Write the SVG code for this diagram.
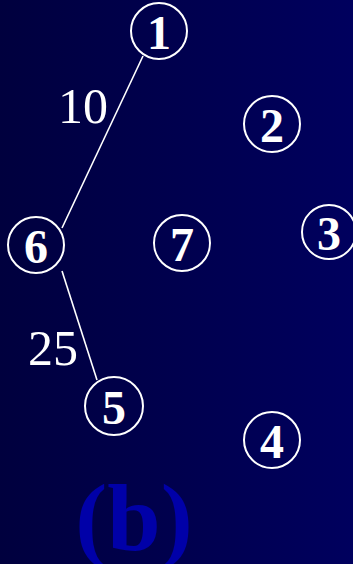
<svg xmlns="http://www.w3.org/2000/svg" width="353" height="564" viewBox="0 0 353 564">
<defs>
<linearGradient id="bg" x1="0" y1="0" x2="1" y2="0">
<stop offset="0" stop-color="#00003e"/>
<stop offset="1" stop-color="#00005e"/>
</linearGradient>
<style>
.n circle{fill:none;stroke:#fff;stroke-width:2}
.n text{fill:#fff;font-family:"Liberation Serif",serif;font-weight:bold;font-size:48px;text-anchor:middle}
.e line{stroke:#fff;stroke-width:1.6}
.w{fill:#fff;font-family:"Liberation Serif",serif;font-size:50px}
</style>
</defs>
<rect width="353" height="564" fill="url(#bg)"/>
<g class="e" id="edges">
<line x1="143" y1="56" x2="62" y2="228"/>
<line x1="62" y1="271" x2="97" y2="380"/>
</g>
<g class="n" id="node1"><circle cx="159" cy="31" r="28"/><text x="159" y="49">1</text></g>
<g class="n" id="node2"><circle cx="272" cy="124" r="28"/><text x="272" y="142">2</text></g>
<g class="n" id="node3"><circle cx="329" cy="232" r="27"/><text x="329" y="250">3</text></g>
<g class="n" id="node6"><circle cx="36" cy="245" r="28"/><text x="36" y="263">6</text></g>
<g class="n" id="node7"><circle cx="182" cy="243" r="28"/><text x="182" y="261">7</text></g>
<g class="n" id="node5"><circle cx="114" cy="406" r="29"/><text x="114" y="424">5</text></g>
<g class="n" id="node4"><circle cx="272" cy="440" r="28"/><text x="272" y="458">4</text></g>
<text class="w" x="58" y="123">10</text>
<text class="w" x="28" y="365">25</text>
<text x="134" y="550" fill="#0000a8" font-family="'Liberation Serif',serif" font-weight="bold" font-size="96" text-anchor="middle">(b)</text>
</svg>
